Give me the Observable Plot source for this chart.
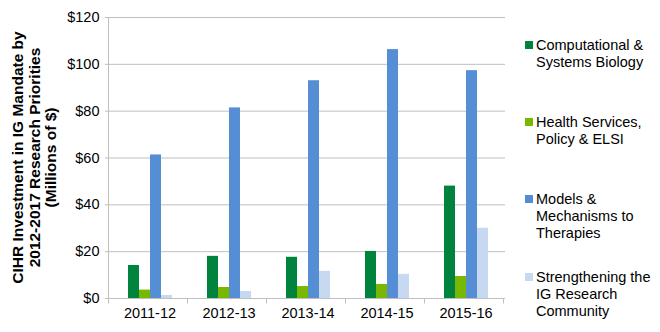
<!DOCTYPE html>
<html>
<head>
<meta charset="utf-8">
<script src="https://cdn.jsdelivr.net/npm/d3@7"></script>
<script src="https://cdn.jsdelivr.net/npm/@observablehq/plot@0.6"></script>
<style>
  html, body { margin: 0; padding: 0; background: #fff; }
  #wrap { position: relative; width: 660px; height: 332px; font-family: "Liberation Sans", Arial, sans-serif; }
  #legend { position: absolute; left: 525px; top: 0; font-size: 14.5px; line-height: 17px; color: #000; }
  .item { position: absolute; left: 0; width: 135px; }
  .sw { position: absolute; left: 0; top: 4.5px; width: 8px; height: 8px; }
  .lab { position: absolute; left: 11px; white-space: nowrap; }
</style>
</head>
<body>
<div id="wrap"><div id="legend"></div></div>
<script>
const years = ["2011-12", "2012-13", "2013-14", "2014-15", "2015-16"];
const seriesNames = [
  "Computational & Systems Biology",
  "Health Services, Policy & ELSI",
  "Models & Mechanisms to Therapies",
  "Strengthening the IG Research Community"
];
const legendLines = [
  ["Computational &", "Systems Biology"],
  ["Health Services,", "Policy & ELSI"],
  ["Models &", "Mechanisms to", "Therapies"],
  ["Strengthening the", "IG Research", "Community"]
];
const computational = [14.1, 18.0, 17.6, 20.1, 48.0];
const healthServices = [3.6, 4.7, 5.1, 6.0, 9.4];
const models = [61.3, 81.4, 93.0, 106.3, 97.3];
const strengthening = [1.3, 3.0, 11.6, 10.3, 30.0];
const colors = ["#00843D", "#78B800", "#558ED5", "#C6D9F1"];
const yTicks = [0, 20, 40, 60, 80, 100, 120];
const titleLines = ["CIHR Investment in IG Mandate by", "2012-2017 Research Priorities", "(Millions of $)"];

const allSeries = [computational, healthServices, models, strengthening];
const data = [];
years.forEach((yr, i) => {
  allSeries.forEach((vals, j) => {
    data.push({year: yr, series: seriesNames[j], value: vals[i]});
  });
});

const chart = Plot.plot({
  width: 660,
  height: 332,
  marginLeft: 108,
  marginRight: 153,
  marginTop: 17,
  marginBottom: 34,
  style: {fontFamily: "'Liberation Sans', Arial, sans-serif", fontSize: "14.5px", color: "#000", background: "transparent"},
  fx: {domain: years, padding: 0, label: null, axis: null},
  x: {domain: seriesNames, paddingInner: 0, paddingOuter: 1.387, axis: null},
  y: {domain: [0, 120], label: null},
  color: {domain: seriesNames, range: colors},
  marks: [
    Plot.gridY(yTicks, {stroke: "#BFBFBF", strokeOpacity: 1}),
    Plot.barY(data, {fx: "year", x: "series", y: "value", fill: "series"}),
    Plot.ruleY([0], {stroke: "#BFBFBF"}),
    Plot.axisY(yTicks, {tickSize: 5, tickPadding: 6, stroke: "#BFBFBF", fill: "#000", tickFormat: d => "$" + d, label: null}),
    Plot.axisFx({anchor: "bottom", tickSize: 0, tickPadding: 9, label: null, fill: "#000"})
  ]
});

const wrap = document.getElementById("wrap");
wrap.insertBefore(chart, wrap.firstChild);

// axis lines and category boundary ticks using Plot's scales
const svg = d3.select(chart);
const fx = chart.scale("fx");
const ys = chart.scale("y");
const r0 = fx.range[0], step = fx.step;
const y0 = ys.range[0], y1 = ys.range[1];
const g = svg.append("g").attr("stroke", "#BFBFBF").attr("transform", "translate(0.5,0.5)");
g.append("line").attr("x1", r0).attr("x2", r0).attr("y1", y1).attr("y2", y0);
for (let i = 0; i <= years.length; i++) {
  const xx = Math.round(r0 + i * step);
  g.append("line").attr("x1", xx).attr("x2", xx).attr("y1", y0).attr("y2", y0 + 5);
}

// y axis title (three rotated lines)
const cy = (y0 + y1) / 2;
const t = svg.append("text")
  .attr("transform", `translate(23,${cy}) rotate(-90)`)
  .attr("text-anchor", "middle")
  .attr("font-weight", "bold")
  .style("font-size", "15.5px")
  .attr("fill", "#000");
titleLines.forEach((ln, i) => {
  t.append("tspan").attr("x", 0).attr("dy", i === 0 ? 0 : 16.5).text(ln);
});

// legend
const legend = d3.select("#legend");
const tops = [36.5, 113.5, 190.5, 268.5];
legendLines.forEach((lines, i) => {
  const item = legend.append("div").attr("class", "item").style("top", tops[i] + "px");
  item.append("div").attr("class", "sw").style("background", colors[i]);
  const lab = item.append("div").attr("class", "lab");
  lines.forEach(l => lab.append("div").text(l));
});
</script>
</body>
</html>
